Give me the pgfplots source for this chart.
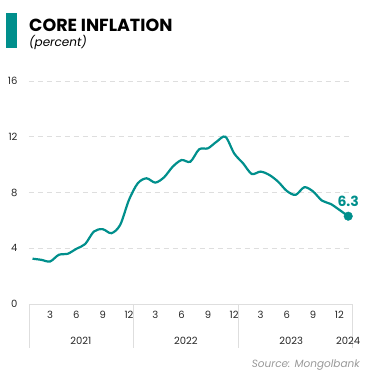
\documentclass[border=0pt]{standalone}
\usepackage{pgfplots}
\pgfplotsset{compat=1.18}
\usepackage{fontspec}
\setmainfont{Poppins}
\definecolor{cteal}{RGB}{0,143,140}
\definecolor{cgrid}{RGB}{222,222,222}

\begin{document}
\begin{tikzpicture}
\useasboundingbox (-29pt,-77pt) rectangle (346pt,304pt);

% header
\fill[cteal] (-23pt,256pt) rectangle (-12pt,291pt);
\node[anchor=base west, inner sep=0] at (0pt,272pt) {\fontsize{17.5}{17.5}\selectfont\bfseries CORE INFLATION};
\node[anchor=base west, inner sep=0] at (0pt,257pt) {\fontsize{12}{12}\selectfont\itshape (percent)};

\begin{axis}[
    at={(0pt,0pt)}, anchor=south west,
    scale only axis, width=323pt, height=223pt,
    xmin=0.6, xmax=37.43, ymin=0, ymax=16,
    axis line style={draw=none},
    tick style={draw=none},
    ytick={0,4,8,12,16},
    xtick={3,6,9,12,15,18,21,24,27,30,33,36},
    xticklabels={3,6,9,12,3,6,9,12,3,6,9,12},
    ymajorgrids,
    grid style={cgrid, dashed, dash pattern=on 5pt off 4pt, line width=0.8pt},
    ticklabel style={font=\fontsize{10}{10}\selectfont, text=black!85},
    xticklabel style={yshift=-4pt},
    yticklabel style={xshift=-8pt},
    /pgf/number format/assume math mode=true,
    clip=false,
]
\draw[cgrid, line width=0.8pt] (axis cs:0.6,0) -- (axis cs:37.43,0);
\foreach \s in {0.6,12.5,24.5,37.43}{
    \edef\tmp{\noexpand\draw[cgrid, line width=0.8pt] (axis cs:\s,0) -- ++(0pt,-44pt);}\tmp
}
\node[font=\fontsize{10}{10}\selectfont, text=black!85] at (axis cs:6.5,0) [yshift=-37pt] {2021};
\node[font=\fontsize{10}{10}\selectfont, text=black!85] at (axis cs:18.5,0) [yshift=-37pt] {2022};
\node[font=\fontsize{10}{10}\selectfont, text=black!85] at (axis cs:30.5,0) [yshift=-37pt] {2023};
\node[font=\fontsize{10}{10}\selectfont, text=black!85] at (axis cs:37,0) [yshift=-37pt] {2024};

\addplot[cteal, line width=2.2pt, smooth, tension=0.5, no marks] coordinates {
(1,3.25) (2,3.17) (3,3.05) (4,3.53) (5,3.60) (6,3.96) (7,4.30) (8,5.20) (9,5.37)
(10,5.08) (11,5.68) (12,7.47) (13,8.66) (14,9.02) (15,8.71) (16,9.09) (17,9.86)
(18,10.33) (19,10.21) (20,11.10) (21,11.17) (22,11.65) (23,12.00) (24,10.80)
(25,10.10) (26,9.33) (27,9.50) (28,9.26) (29,8.78) (30,8.11) (31,7.83) (32,8.38)
(33,8.07) (34,7.42) (35,7.18) (36,6.75) (37,6.30)
};
\addplot[cteal, only marks, mark=*, mark size=4.3pt,
    nodes near coords, point meta=explicit symbolic,
    nodes near coords style={font=\fontsize{14}{14}\selectfont\bfseries, text=cteal, anchor=center, yshift=15pt}]
    coordinates {(37,6.30) [6.3]};
\end{axis}

\node[anchor=east, inner sep=0, font=\fontsize{10.5}{10.5}\selectfont\itshape, text=black!40] at (331pt,-61pt) {Source: Mongolbank};
\end{tikzpicture}
\end{document}
